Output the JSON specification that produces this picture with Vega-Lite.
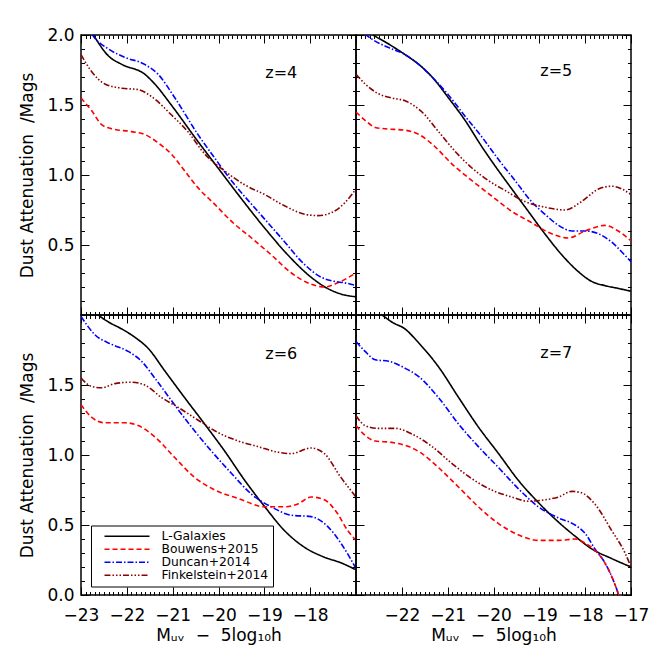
{
"$schema":"https://vega.github.io/schema/vega-lite/v6.json",
"padding":{"left":18,"top":25,"right":5,"bottom":5},
"config":{"view":{"stroke":"#000","strokeWidth":1.5},"font":"DejaVu Sans",
"axis":{"grid":false,"domain":false,"tickColor":"#000","tickWidth":1,"labelColor":"#000","labelFont":"DejaVu Sans","labelFontSize":17,"titleFont":"DejaVu Sans","titleFontSize":17,"titleFontWeight":"normal","titleColor":"#000","labelOverlap":false,"labelFlush":false,"labelBound":false}},
"datasets":{"c":[
{"z":4,"model":"L-Galaxies","M":-23,"A":2.15},{"z":4,"model":"L-Galaxies","M":-22.73,"A":2.0},{"z":4,"model":"L-Galaxies","M":-22.4,"A":1.85},{"z":4,"model":"L-Galaxies","M":-22.11,"A":1.79},{"z":4,"model":"L-Galaxies","M":-21.61,"A":1.72},{"z":4,"model":"L-Galaxies","M":-21.39,"A":1.65},{"z":4,"model":"L-Galaxies","M":-21.03,"A":1.5},{"z":4,"model":"L-Galaxies","M":-20.45,"A":1.24},{"z":4,"model":"L-Galaxies","M":-20.01,"A":1.05},{"z":4,"model":"L-Galaxies","M":-19.57,"A":0.86},{"z":4,"model":"L-Galaxies","M":-18.99,"A":0.62},{"z":4,"model":"L-Galaxies","M":-18.49,"A":0.43},{"z":4,"model":"L-Galaxies","M":-17.98,"A":0.27},{"z":4,"model":"L-Galaxies","M":-17.65,"A":0.195},{"z":4,"model":"L-Galaxies","M":-17.33,"A":0.15},{"z":4,"model":"L-Galaxies","M":-17.0,"A":0.13},
{"z":4,"model":"Bouwens+2015","M":-23,"A":1.55},{"z":4,"model":"Bouwens+2015","M":-22.77,"A":1.46},{"z":4,"model":"Bouwens+2015","M":-22.55,"A":1.36},{"z":4,"model":"Bouwens+2015","M":-22.33,"A":1.33},{"z":4,"model":"Bouwens+2015","M":-21.9,"A":1.31},{"z":4,"model":"Bouwens+2015","M":-21.61,"A":1.29},{"z":4,"model":"Bouwens+2015","M":-21.32,"A":1.23},{"z":4,"model":"Bouwens+2015","M":-21.03,"A":1.15},{"z":4,"model":"Bouwens+2015","M":-20.74,"A":1.03},{"z":4,"model":"Bouwens+2015","M":-20.45,"A":0.91},{"z":4,"model":"Bouwens+2015","M":-20.08,"A":0.79},{"z":4,"model":"Bouwens+2015","M":-19.72,"A":0.67},{"z":4,"model":"Bouwens+2015","M":-19.28,"A":0.55},{"z":4,"model":"Bouwens+2015","M":-18.85,"A":0.43},{"z":4,"model":"Bouwens+2015","M":-18.41,"A":0.3},{"z":4,"model":"Bouwens+2015","M":-17.98,"A":0.22},{"z":4,"model":"Bouwens+2015","M":-17.69,"A":0.2},{"z":4,"model":"Bouwens+2015","M":-17.4,"A":0.23},{"z":4,"model":"Bouwens+2015","M":-17.0,"A":0.3},
{"z":4,"model":"Duncan+2014","M":-23,"A":2.15},{"z":4,"model":"Duncan+2014","M":-22.75,"A":2.0},{"z":4,"model":"Duncan+2014","M":-22.4,"A":1.9},{"z":4,"model":"Duncan+2014","M":-22.04,"A":1.84},{"z":4,"model":"Duncan+2014","M":-21.61,"A":1.79},{"z":4,"model":"Duncan+2014","M":-21.32,"A":1.72},{"z":4,"model":"Duncan+2014","M":-20.95,"A":1.55},{"z":4,"model":"Duncan+2014","M":-20.45,"A":1.29},{"z":4,"model":"Duncan+2014","M":-20.08,"A":1.12},{"z":4,"model":"Duncan+2014","M":-19.72,"A":0.96},{"z":4,"model":"Duncan+2014","M":-19.14,"A":0.74},{"z":4,"model":"Duncan+2014","M":-18.63,"A":0.55},{"z":4,"model":"Duncan+2014","M":-18.12,"A":0.36},{"z":4,"model":"Duncan+2014","M":-17.76,"A":0.27},{"z":4,"model":"Duncan+2014","M":-17.47,"A":0.24},{"z":4,"model":"Duncan+2014","M":-17.25,"A":0.23},{"z":4,"model":"Duncan+2014","M":-17.0,"A":0.21},
{"z":4,"model":"Finkelstein+2014","M":-23,"A":1.86},{"z":4,"model":"Finkelstein+2014","M":-22.77,"A":1.74},{"z":4,"model":"Finkelstein+2014","M":-22.48,"A":1.65},{"z":4,"model":"Finkelstein+2014","M":-22.11,"A":1.62},{"z":4,"model":"Finkelstein+2014","M":-21.75,"A":1.61},{"z":4,"model":"Finkelstein+2014","M":-21.46,"A":1.56},{"z":4,"model":"Finkelstein+2014","M":-21.03,"A":1.43},{"z":4,"model":"Finkelstein+2014","M":-20.67,"A":1.31},{"z":4,"model":"Finkelstein+2014","M":-20.3,"A":1.15},{"z":4,"model":"Finkelstein+2014","M":-19.87,"A":1.03},{"z":4,"model":"Finkelstein+2014","M":-19.43,"A":0.93},{"z":4,"model":"Finkelstein+2014","M":-18.99,"A":0.86},{"z":4,"model":"Finkelstein+2014","M":-18.56,"A":0.78},{"z":4,"model":"Finkelstein+2014","M":-18.12,"A":0.72},{"z":4,"model":"Finkelstein+2014","M":-17.83,"A":0.71},{"z":4,"model":"Finkelstein+2014","M":-17.54,"A":0.73},{"z":4,"model":"Finkelstein+2014","M":-17.25,"A":0.8},{"z":4,"model":"Finkelstein+2014","M":-17.0,"A":0.9},
{"z":5,"model":"L-Galaxies","M":-23,"A":2.12},{"z":5,"model":"L-Galaxies","M":-22.62,"A":2.0},{"z":5,"model":"L-Galaxies","M":-22.36,"A":1.95},{"z":5,"model":"L-Galaxies","M":-21.93,"A":1.86},{"z":5,"model":"L-Galaxies","M":-21.63,"A":1.79},{"z":5,"model":"L-Galaxies","M":-21.34,"A":1.7},{"z":5,"model":"L-Galaxies","M":-20.98,"A":1.55},{"z":5,"model":"L-Galaxies","M":-20.62,"A":1.39},{"z":5,"model":"L-Galaxies","M":-20.25,"A":1.2},{"z":5,"model":"L-Galaxies","M":-19.89,"A":1.03},{"z":5,"model":"L-Galaxies","M":-19.6,"A":0.9},{"z":5,"model":"L-Galaxies","M":-19.24,"A":0.74},{"z":5,"model":"L-Galaxies","M":-18.88,"A":0.58},{"z":5,"model":"L-Galaxies","M":-18.51,"A":0.43},{"z":5,"model":"L-Galaxies","M":-18.15,"A":0.31},{"z":5,"model":"L-Galaxies","M":-17.86,"A":0.24},{"z":5,"model":"L-Galaxies","M":-17.57,"A":0.21},{"z":5,"model":"L-Galaxies","M":-17.28,"A":0.19},{"z":5,"model":"L-Galaxies","M":-17.0,"A":0.17},
{"z":5,"model":"Duncan+2014","M":-23,"A":2.06},{"z":5,"model":"Duncan+2014","M":-22.65,"A":1.97},{"z":5,"model":"Duncan+2014","M":-22.29,"A":1.91},{"z":5,"model":"Duncan+2014","M":-21.93,"A":1.86},{"z":5,"model":"Duncan+2014","M":-21.63,"A":1.79},{"z":5,"model":"Duncan+2014","M":-21.34,"A":1.7},{"z":5,"model":"Duncan+2014","M":-20.98,"A":1.57},{"z":5,"model":"Duncan+2014","M":-20.62,"A":1.42},{"z":5,"model":"Duncan+2014","M":-20.25,"A":1.27},{"z":5,"model":"Duncan+2014","M":-19.89,"A":1.11},{"z":5,"model":"Duncan+2014","M":-19.53,"A":0.96},{"z":5,"model":"Duncan+2014","M":-19.17,"A":0.81},{"z":5,"model":"Duncan+2014","M":-18.88,"A":0.72},{"z":5,"model":"Duncan+2014","M":-18.58,"A":0.64},{"z":5,"model":"Duncan+2014","M":-18.29,"A":0.6},{"z":5,"model":"Duncan+2014","M":-18.0,"A":0.6},{"z":5,"model":"Duncan+2014","M":-17.71,"A":0.58},{"z":5,"model":"Duncan+2014","M":-17.42,"A":0.52},{"z":5,"model":"Duncan+2014","M":-17.2,"A":0.45},{"z":5,"model":"Duncan+2014","M":-17.0,"A":0.38},
{"z":5,"model":"Bouwens+2015","M":-23,"A":1.45},{"z":5,"model":"Bouwens+2015","M":-22.8,"A":1.39},{"z":5,"model":"Bouwens+2015","M":-22.58,"A":1.34},{"z":5,"model":"Bouwens+2015","M":-22.36,"A":1.33},{"z":5,"model":"Bouwens+2015","M":-21.93,"A":1.32},{"z":5,"model":"Bouwens+2015","M":-21.63,"A":1.29},{"z":5,"model":"Bouwens+2015","M":-21.27,"A":1.2},{"z":5,"model":"Bouwens+2015","M":-20.91,"A":1.08},{"z":5,"model":"Bouwens+2015","M":-20.47,"A":0.96},{"z":5,"model":"Bouwens+2015","M":-20.04,"A":0.85},{"z":5,"model":"Bouwens+2015","M":-19.6,"A":0.74},{"z":5,"model":"Bouwens+2015","M":-19.17,"A":0.66},{"z":5,"model":"Bouwens+2015","M":-18.73,"A":0.58},{"z":5,"model":"Bouwens+2015","M":-18.37,"A":0.55},{"z":5,"model":"Bouwens+2015","M":-18.0,"A":0.6},{"z":5,"model":"Bouwens+2015","M":-17.57,"A":0.64},{"z":5,"model":"Bouwens+2015","M":-17.28,"A":0.6},{"z":5,"model":"Bouwens+2015","M":-17.0,"A":0.53},
{"z":5,"model":"Finkelstein+2014","M":-23,"A":1.72},{"z":5,"model":"Finkelstein+2014","M":-22.8,"A":1.65},{"z":5,"model":"Finkelstein+2014","M":-22.51,"A":1.58},{"z":5,"model":"Finkelstein+2014","M":-22.22,"A":1.55},{"z":5,"model":"Finkelstein+2014","M":-21.93,"A":1.53},{"z":5,"model":"Finkelstein+2014","M":-21.56,"A":1.45},{"z":5,"model":"Finkelstein+2014","M":-21.2,"A":1.31},{"z":5,"model":"Finkelstein+2014","M":-20.84,"A":1.17},{"z":5,"model":"Finkelstein+2014","M":-20.47,"A":1.05},{"z":5,"model":"Finkelstein+2014","M":-20.11,"A":0.96},{"z":5,"model":"Finkelstein+2014","M":-19.75,"A":0.89},{"z":5,"model":"Finkelstein+2014","M":-19.31,"A":0.81},{"z":5,"model":"Finkelstein+2014","M":-18.88,"A":0.77},{"z":5,"model":"Finkelstein+2014","M":-18.44,"A":0.75},{"z":5,"model":"Finkelstein+2014","M":-18.08,"A":0.81},{"z":5,"model":"Finkelstein+2014","M":-17.71,"A":0.9},{"z":5,"model":"Finkelstein+2014","M":-17.42,"A":0.92},{"z":5,"model":"Finkelstein+2014","M":-17.2,"A":0.9},{"z":5,"model":"Finkelstein+2014","M":-17.0,"A":0.86},
{"z":6,"model":"L-Galaxies","M":-23,"A":2.15},{"z":6,"model":"L-Galaxies","M":-22.62,"A":2.0},{"z":6,"model":"L-Galaxies","M":-22.4,"A":1.95},{"z":6,"model":"L-Galaxies","M":-22.11,"A":1.9},{"z":6,"model":"L-Galaxies","M":-21.82,"A":1.84},{"z":6,"model":"L-Galaxies","M":-21.53,"A":1.76},{"z":6,"model":"L-Galaxies","M":-21.17,"A":1.6},{"z":6,"model":"L-Galaxies","M":-20.74,"A":1.41},{"z":6,"model":"L-Galaxies","M":-20.3,"A":1.22},{"z":6,"model":"L-Galaxies","M":-19.87,"A":1.03},{"z":6,"model":"L-Galaxies","M":-19.43,"A":0.82},{"z":6,"model":"L-Galaxies","M":-18.99,"A":0.63},{"z":6,"model":"L-Galaxies","M":-18.56,"A":0.46},{"z":6,"model":"L-Galaxies","M":-18.12,"A":0.34},{"z":6,"model":"L-Galaxies","M":-17.69,"A":0.27},{"z":6,"model":"L-Galaxies","M":-17.33,"A":0.23},{"z":6,"model":"L-Galaxies","M":-17.0,"A":0.18},
{"z":6,"model":"Duncan+2014","M":-23,"A":1.99},{"z":6,"model":"Duncan+2014","M":-22.7,"A":1.86},{"z":6,"model":"Duncan+2014","M":-22.33,"A":1.79},{"z":6,"model":"Duncan+2014","M":-21.97,"A":1.74},{"z":6,"model":"Duncan+2014","M":-21.68,"A":1.67},{"z":6,"model":"Duncan+2014","M":-21.39,"A":1.55},{"z":6,"model":"Duncan+2014","M":-21.03,"A":1.39},{"z":6,"model":"Duncan+2014","M":-20.59,"A":1.2},{"z":6,"model":"Duncan+2014","M":-20.16,"A":1.03},{"z":6,"model":"Duncan+2014","M":-19.72,"A":0.87},{"z":6,"model":"Duncan+2014","M":-19.28,"A":0.72},{"z":6,"model":"Duncan+2014","M":-18.85,"A":0.63},{"z":6,"model":"Duncan+2014","M":-18.41,"A":0.57},{"z":6,"model":"Duncan+2014","M":-17.98,"A":0.56},{"z":6,"model":"Duncan+2014","M":-17.62,"A":0.49},{"z":6,"model":"Duncan+2014","M":-17.33,"A":0.37},{"z":6,"model":"Duncan+2014","M":-17.0,"A":0.19},
{"z":6,"model":"Bouwens+2015","M":-23,"A":1.36},{"z":6,"model":"Bouwens+2015","M":-22.77,"A":1.27},{"z":6,"model":"Bouwens+2015","M":-22.48,"A":1.23},{"z":6,"model":"Bouwens+2015","M":-22.04,"A":1.23},{"z":6,"model":"Bouwens+2015","M":-21.75,"A":1.21},{"z":6,"model":"Bouwens+2015","M":-21.39,"A":1.13},{"z":6,"model":"Bouwens+2015","M":-20.95,"A":0.98},{"z":6,"model":"Bouwens+2015","M":-20.52,"A":0.84},{"z":6,"model":"Bouwens+2015","M":-20.08,"A":0.75},{"z":6,"model":"Bouwens+2015","M":-19.57,"A":0.69},{"z":6,"model":"Bouwens+2015","M":-18.99,"A":0.63},{"z":6,"model":"Bouwens+2015","M":-18.56,"A":0.63},{"z":6,"model":"Bouwens+2015","M":-18.27,"A":0.65},{"z":6,"model":"Bouwens+2015","M":-17.98,"A":0.7},{"z":6,"model":"Bouwens+2015","M":-17.69,"A":0.68},{"z":6,"model":"Bouwens+2015","M":-17.4,"A":0.58},{"z":6,"model":"Bouwens+2015","M":-17.18,"A":0.46},{"z":6,"model":"Bouwens+2015","M":-17.0,"A":0.39},
{"z":6,"model":"Finkelstein+2014","M":-23,"A":1.55},{"z":6,"model":"Finkelstein+2014","M":-22.77,"A":1.49},{"z":6,"model":"Finkelstein+2014","M":-22.55,"A":1.48},{"z":6,"model":"Finkelstein+2014","M":-22.26,"A":1.51},{"z":6,"model":"Finkelstein+2014","M":-21.9,"A":1.52},{"z":6,"model":"Finkelstein+2014","M":-21.61,"A":1.5},{"z":6,"model":"Finkelstein+2014","M":-21.24,"A":1.41},{"z":6,"model":"Finkelstein+2014","M":-20.88,"A":1.34},{"z":6,"model":"Finkelstein+2014","M":-20.45,"A":1.25},{"z":6,"model":"Finkelstein+2014","M":-20.01,"A":1.16},{"z":6,"model":"Finkelstein+2014","M":-19.57,"A":1.1},{"z":6,"model":"Finkelstein+2014","M":-19.14,"A":1.06},{"z":6,"model":"Finkelstein+2014","M":-18.7,"A":1.02},{"z":6,"model":"Finkelstein+2014","M":-18.41,"A":1.01},{"z":6,"model":"Finkelstein+2014","M":-17.98,"A":1.05},{"z":6,"model":"Finkelstein+2014","M":-17.69,"A":1.01},{"z":6,"model":"Finkelstein+2014","M":-17.33,"A":0.84},{"z":6,"model":"Finkelstein+2014","M":-17.0,"A":0.7},
{"z":7,"model":"L-Galaxies","M":-23,"A":2.12},{"z":7,"model":"L-Galaxies","M":-22.43,"A":2.0},{"z":7,"model":"L-Galaxies","M":-22.22,"A":1.95},{"z":7,"model":"L-Galaxies","M":-21.93,"A":1.9},{"z":7,"model":"L-Galaxies","M":-21.63,"A":1.8},{"z":7,"model":"L-Galaxies","M":-21.2,"A":1.63},{"z":7,"model":"L-Galaxies","M":-20.76,"A":1.41},{"z":7,"model":"L-Galaxies","M":-20.33,"A":1.2},{"z":7,"model":"L-Galaxies","M":-19.89,"A":1.01},{"z":7,"model":"L-Galaxies","M":-19.46,"A":0.82},{"z":7,"model":"L-Galaxies","M":-19.02,"A":0.66},{"z":7,"model":"L-Galaxies","M":-18.58,"A":0.52},{"z":7,"model":"L-Galaxies","M":-18.22,"A":0.42},{"z":7,"model":"L-Galaxies","M":-17.86,"A":0.33},{"z":7,"model":"L-Galaxies","M":-17.42,"A":0.26},{"z":7,"model":"L-Galaxies","M":-17.0,"A":0.2},
{"z":7,"model":"Duncan+2014","M":-23,"A":1.81},{"z":7,"model":"Duncan+2014","M":-22.8,"A":1.74},{"z":7,"model":"Duncan+2014","M":-22.58,"A":1.68},{"z":7,"model":"Duncan+2014","M":-22.29,"A":1.67},{"z":7,"model":"Duncan+2014","M":-21.93,"A":1.62},{"z":7,"model":"Duncan+2014","M":-21.63,"A":1.56},{"z":7,"model":"Duncan+2014","M":-21.2,"A":1.41},{"z":7,"model":"Duncan+2014","M":-20.76,"A":1.22},{"z":7,"model":"Duncan+2014","M":-20.33,"A":1.06},{"z":7,"model":"Duncan+2014","M":-19.89,"A":0.91},{"z":7,"model":"Duncan+2014","M":-19.46,"A":0.76},{"z":7,"model":"Duncan+2014","M":-19.02,"A":0.63},{"z":7,"model":"Duncan+2014","M":-18.58,"A":0.55},{"z":7,"model":"Duncan+2014","M":-18.22,"A":0.5},{"z":7,"model":"Duncan+2014","M":-18.0,"A":0.44},{"z":7,"model":"Duncan+2014","M":-17.79,"A":0.33},{"z":7,"model":"Duncan+2014","M":-17.57,"A":0.23},{"z":7,"model":"Duncan+2014","M":-17.38,"A":0.1},{"z":7,"model":"Duncan+2014","M":-17.27,"A":0.0},{"z":7,"model":"Duncan+2014","M":-17.12,"A":-0.2},
{"z":7,"model":"Bouwens+2015","M":-23,"A":1.21},{"z":7,"model":"Bouwens+2015","M":-22.8,"A":1.14},{"z":7,"model":"Bouwens+2015","M":-22.58,"A":1.1},{"z":7,"model":"Bouwens+2015","M":-22.22,"A":1.09},{"z":7,"model":"Bouwens+2015","M":-21.85,"A":1.06},{"z":7,"model":"Bouwens+2015","M":-21.56,"A":1.01},{"z":7,"model":"Bouwens+2015","M":-21.2,"A":0.91},{"z":7,"model":"Bouwens+2015","M":-20.76,"A":0.77},{"z":7,"model":"Bouwens+2015","M":-20.33,"A":0.63},{"z":7,"model":"Bouwens+2015","M":-19.89,"A":0.51},{"z":7,"model":"Bouwens+2015","M":-19.46,"A":0.43},{"z":7,"model":"Bouwens+2015","M":-19.02,"A":0.39},{"z":7,"model":"Bouwens+2015","M":-18.58,"A":0.39},{"z":7,"model":"Bouwens+2015","M":-18.22,"A":0.4},{"z":7,"model":"Bouwens+2015","M":-18.0,"A":0.37},{"z":7,"model":"Bouwens+2015","M":-17.79,"A":0.32},{"z":7,"model":"Bouwens+2015","M":-17.57,"A":0.23},{"z":7,"model":"Bouwens+2015","M":-17.38,"A":0.1},{"z":7,"model":"Bouwens+2015","M":-17.27,"A":0.0},{"z":7,"model":"Bouwens+2015","M":-17.12,"A":-0.2},
{"z":7,"model":"Finkelstein+2014","M":-23,"A":1.28},{"z":7,"model":"Finkelstein+2014","M":-22.8,"A":1.21},{"z":7,"model":"Finkelstein+2014","M":-22.51,"A":1.19},{"z":7,"model":"Finkelstein+2014","M":-22.14,"A":1.19},{"z":7,"model":"Finkelstein+2014","M":-21.78,"A":1.15},{"z":7,"model":"Finkelstein+2014","M":-21.34,"A":1.06},{"z":7,"model":"Finkelstein+2014","M":-20.91,"A":0.94},{"z":7,"model":"Finkelstein+2014","M":-20.47,"A":0.83},{"z":7,"model":"Finkelstein+2014","M":-20.04,"A":0.75},{"z":7,"model":"Finkelstein+2014","M":-19.6,"A":0.7},{"z":7,"model":"Finkelstein+2014","M":-19.24,"A":0.67},{"z":7,"model":"Finkelstein+2014","M":-18.88,"A":0.68},{"z":7,"model":"Finkelstein+2014","M":-18.58,"A":0.7},{"z":7,"model":"Finkelstein+2014","M":-18.29,"A":0.74},{"z":7,"model":"Finkelstein+2014","M":-18.08,"A":0.73},{"z":7,"model":"Finkelstein+2014","M":-17.79,"A":0.65},{"z":7,"model":"Finkelstein+2014","M":-17.42,"A":0.46},{"z":7,"model":"Finkelstein+2014","M":-17.13,"A":0.3},{"z":7,"model":"Finkelstein+2014","M":-17.0,"A":0.2}
]},
"columns":2,
"spacing":0,
"bounds":"flush",
"resolve":{"scale":{"color":"independent","strokeDash":"independent"},"legend":{"color":"independent","strokeDash":"independent"}},
"concat":[
{"width":275,"height":280,
 "resolve":{"axis":{"x":"independent","y":"independent"}},
 "layer":[
  {"data":{"name":"c"},"transform":[{"filter":"datum.z==4"}],
   "mark":{"type":"line","clip":true,"strokeWidth":1.6,"interpolate":"monotone"},
   "encoding":{
    "x":{"field":"M","type":"quantitative","scale":{"domain":[-23,-17],"nice":false,"zero":false},"axis":{"orient":"bottom","tickSize":8,"offset":-8,"tickCount":6,"labels":false,"title":null}},
    "y":{"field":"A","type":"quantitative","scale":{"domain":[0,2],"nice":false},"axis":{"orient":"left","tickSize":8,"offset":-8,"values":[0.5,1,1.5,2],"format":".1f","labelPadding":7,"title":"Dust Attenuation\u00a0\u00a0/Mags","titlePadding":10}},
    "color":{"field":"model","type":"nominal","scale":{"domain":["L-Galaxies","Bouwens+2015","Duncan+2014","Finkelstein+2014"],"range":["#000000","#ff0000","#0000ff","#8b0000"]},"legend":null},
    "strokeDash":{"field":"model","type":"nominal","scale":{"domain":["L-Galaxies","Bouwens+2015","Duncan+2014","Finkelstein+2014"],"range":[[1,0],[5,3],[6,2,1.5,2],[6,2,1.5,2,1.5,2,1.5,2]]},"legend":null}}},
  {"data":{"values":[{"t":"z=4"}]},
   "mark":{"type":"text","fontSize":16,"font":"DejaVu Sans","color":"#000","baseline":"middle"},
   "encoding":{"text":{"field":"t"},
    "x":{"datum":-18.63,"type":"quantitative","axis":{"orient":"top","tickSize":8,"offset":-8,"tickCount":6,"labels":false,"title":null}},
    "y":{"datum":1.73,"type":"quantitative","axis":{"orient":"right","tickSize":8,"offset":-8,"tickCount":4,"labels":false,"title":null}}}},
  {"data":{"values":[{"t":""}]},"mark":{"type":"point","opacity":0},
   "encoding":{"x":{"datum":-20,"type":"quantitative","axis":{"orient":"bottom","tickSize":3.5,"offset":-3.5,"tickCount":60,"labels":false,"title":null}},
    "y":{"datum":1,"type":"quantitative","axis":{"orient":"left","tickSize":3.5,"offset":-3.5,"tickCount":20,"labels":false,"title":null}}}},
  {"data":{"values":[{"t":""}]},"mark":{"type":"point","opacity":0},
   "encoding":{"x":{"datum":-20,"type":"quantitative","axis":{"orient":"top","tickSize":3.5,"offset":-3.5,"tickCount":60,"labels":false,"title":null}},
    "y":{"datum":1,"type":"quantitative","axis":{"orient":"right","tickSize":3.5,"offset":-3.5,"tickCount":20,"labels":false,"title":null}}}}
 ]},
{"width":275,"height":280,
 "resolve":{"axis":{"x":"independent","y":"independent"}},
 "layer":[
  {"data":{"name":"c"},"transform":[{"filter":"datum.z==5"}],
   "mark":{"type":"line","clip":true,"strokeWidth":1.6,"interpolate":"monotone"},
   "encoding":{
    "x":{"field":"M","type":"quantitative","scale":{"domain":[-23,-17],"nice":false,"zero":false},"axis":{"orient":"bottom","tickSize":8,"offset":-8,"tickCount":6,"labels":false,"title":null}},
    "y":{"field":"A","type":"quantitative","scale":{"domain":[0,2],"nice":false},"axis":{"orient":"left","tickSize":8,"offset":-8,"tickCount":4,"labels":false,"title":null}},
    "color":{"field":"model","type":"nominal","scale":{"domain":["L-Galaxies","Bouwens+2015","Duncan+2014","Finkelstein+2014"],"range":["#000000","#ff0000","#0000ff","#8b0000"]},"legend":null},
    "strokeDash":{"field":"model","type":"nominal","scale":{"domain":["L-Galaxies","Bouwens+2015","Duncan+2014","Finkelstein+2014"],"range":[[1,0],[5,3],[6,2,1.5,2],[6,2,1.5,2,1.5,2,1.5,2]]},"legend":null}}},
  {"data":{"values":[{"t":"z=5"}]},
   "mark":{"type":"text","fontSize":16,"font":"DejaVu Sans","color":"#000","baseline":"middle"},
   "encoding":{"text":{"field":"t"},
    "x":{"datum":-18.63,"type":"quantitative","axis":{"orient":"top","tickSize":8,"offset":-8,"tickCount":6,"labels":false,"title":null}},
    "y":{"datum":1.74,"type":"quantitative","axis":{"orient":"right","tickSize":8,"offset":-8,"tickCount":4,"labels":false,"title":null}}}},
  {"data":{"values":[{"t":""}]},"mark":{"type":"point","opacity":0},
   "encoding":{"x":{"datum":-20,"type":"quantitative","axis":{"orient":"bottom","tickSize":3.5,"offset":-3.5,"tickCount":60,"labels":false,"title":null}},
    "y":{"datum":1,"type":"quantitative","axis":{"orient":"left","tickSize":3.5,"offset":-3.5,"tickCount":20,"labels":false,"title":null}}}},
  {"data":{"values":[{"t":""}]},"mark":{"type":"point","opacity":0},
   "encoding":{"x":{"datum":-20,"type":"quantitative","axis":{"orient":"top","tickSize":3.5,"offset":-3.5,"tickCount":60,"labels":false,"title":null}},
    "y":{"datum":1,"type":"quantitative","axis":{"orient":"right","tickSize":3.5,"offset":-3.5,"tickCount":20,"labels":false,"title":null}}}}
 ]},
{"width":275,"height":280,
 "resolve":{"axis":{"x":"independent","y":"independent"}},
 "layer":[
  {"data":{"name":"c"},"transform":[{"filter":"datum.z==6"}],
   "mark":{"type":"line","clip":true,"strokeWidth":1.6,"interpolate":"monotone"},
   "encoding":{
    "x":{"field":"M","type":"quantitative","scale":{"domain":[-23,-17],"nice":false,"zero":false},"axis":{"orient":"bottom","tickSize":8,"offset":-8,"values":[-23,-22,-21,-20,-19,-18],"format":"d","labelPadding":12,"title":"M\u1d64\u1d65\u00a0\u00a0\u2212\u00a0\u00a05log\u2081\u2080h","titlePadding":4}},
    "y":{"field":"A","type":"quantitative","scale":{"domain":[0,2],"nice":false},"axis":{"orient":"left","tickSize":8,"offset":-8,"values":[0,0.5,1,1.5],"format":".1f","labelPadding":7,"title":"Dust Attenuation\u00a0\u00a0/Mags","titlePadding":10}},
    "color":{"field":"model","type":"nominal","scale":{"domain":["L-Galaxies","Bouwens+2015","Duncan+2014","Finkelstein+2014"],"range":["#000000","#ff0000","#0000ff","#8b0000"]},
      "legend":{"orient":"none","legendX":10,"legendY":210.5,"title":null,"direction":"vertical","strokeColor":"#000","fillColor":"#fff","padding":4.5,"cornerRadius":0,"labelFont":"DejaVu Sans","labelFontSize":12.3,"labelColor":"#000","labelOffset":11,"symbolType":"stroke","symbolSize":2025,"symbolStrokeWidth":1.5,"symbolOffset":8,"clipHeight":12.4,"rowPadding":0}},
    "strokeDash":{"field":"model","type":"nominal","scale":{"domain":["L-Galaxies","Bouwens+2015","Duncan+2014","Finkelstein+2014"],"range":[[1,0],[5,3],[6,2,1.5,2],[6,2,1.5,2,1.5,2,1.5,2]]},
      "legend":{"orient":"none","legendX":10,"legendY":210.5,"title":null,"direction":"vertical","strokeColor":"#000","fillColor":"#fff","padding":4.5,"cornerRadius":0,"labelFont":"DejaVu Sans","labelFontSize":12.3,"labelColor":"#000","labelOffset":11,"symbolType":"stroke","symbolSize":2025,"symbolStrokeWidth":1.5,"symbolOffset":8,"clipHeight":12.4,"rowPadding":0}}}},
  {"data":{"values":[{"t":"z=6"}]},
   "mark":{"type":"text","fontSize":16,"font":"DejaVu Sans","color":"#000","baseline":"middle"},
   "encoding":{"text":{"field":"t"},
    "x":{"datum":-18.63,"type":"quantitative","axis":{"orient":"top","tickSize":8,"offset":-8,"tickCount":6,"labels":false,"title":null}},
    "y":{"datum":1.72,"type":"quantitative","axis":{"orient":"right","tickSize":8,"offset":-8,"tickCount":4,"labels":false,"title":null}}}},
  {"data":{"values":[{"t":""}]},"mark":{"type":"point","opacity":0},
   "encoding":{"x":{"datum":-20,"type":"quantitative","axis":{"orient":"bottom","tickSize":3.5,"offset":-3.5,"tickCount":60,"labels":false,"title":null}},
    "y":{"datum":1,"type":"quantitative","axis":{"orient":"left","tickSize":3.5,"offset":-3.5,"tickCount":20,"labels":false,"title":null}}}},
  {"data":{"values":[{"t":""}]},"mark":{"type":"point","opacity":0},
   "encoding":{"x":{"datum":-20,"type":"quantitative","axis":{"orient":"top","tickSize":3.5,"offset":-3.5,"tickCount":60,"labels":false,"title":null}},
    "y":{"datum":1,"type":"quantitative","axis":{"orient":"right","tickSize":3.5,"offset":-3.5,"tickCount":20,"labels":false,"title":null}}}}
 ]},
{"width":275,"height":280,
 "resolve":{"axis":{"x":"independent","y":"independent"}},
 "layer":[
  {"data":{"name":"c"},"transform":[{"filter":"datum.z==7"}],
   "mark":{"type":"line","clip":true,"strokeWidth":1.6,"interpolate":"monotone"},
   "encoding":{
    "x":{"field":"M","type":"quantitative","scale":{"domain":[-23,-17],"nice":false,"zero":false},"axis":{"orient":"bottom","tickSize":8,"offset":-8,"values":[-22,-21,-20,-19,-18,-17],"format":"d","labelPadding":12,"title":"M\u1d64\u1d65\u00a0\u00a0\u2212\u00a0\u00a05log\u2081\u2080h","titlePadding":4}},
    "y":{"field":"A","type":"quantitative","scale":{"domain":[0,2],"nice":false},"axis":{"orient":"left","tickSize":8,"offset":-8,"tickCount":4,"labels":false,"title":null}},
    "color":{"field":"model","type":"nominal","scale":{"domain":["L-Galaxies","Bouwens+2015","Duncan+2014","Finkelstein+2014"],"range":["#000000","#ff0000","#0000ff","#8b0000"]},"legend":null},
    "strokeDash":{"field":"model","type":"nominal","scale":{"domain":["L-Galaxies","Bouwens+2015","Duncan+2014","Finkelstein+2014"],"range":[[1,0],[5,3],[6,2,1.5,2],[6,2,1.5,2,1.5,2,1.5,2]]},"legend":null}}},
  {"data":{"values":[{"t":"z=7"}]},
   "mark":{"type":"text","fontSize":16,"font":"DejaVu Sans","color":"#000","baseline":"middle"},
   "encoding":{"text":{"field":"t"},
    "x":{"datum":-18.63,"type":"quantitative","axis":{"orient":"top","tickSize":8,"offset":-8,"tickCount":6,"labels":false,"title":null}},
    "y":{"datum":1.73,"type":"quantitative","axis":{"orient":"right","tickSize":8,"offset":-8,"tickCount":4,"labels":false,"title":null}}}},
  {"data":{"values":[{"t":""}]},"mark":{"type":"point","opacity":0},
   "encoding":{"x":{"datum":-20,"type":"quantitative","axis":{"orient":"bottom","tickSize":3.5,"offset":-3.5,"tickCount":60,"labels":false,"title":null}},
    "y":{"datum":1,"type":"quantitative","axis":{"orient":"left","tickSize":3.5,"offset":-3.5,"tickCount":20,"labels":false,"title":null}}}},
  {"data":{"values":[{"t":""}]},"mark":{"type":"point","opacity":0},
   "encoding":{"x":{"datum":-20,"type":"quantitative","axis":{"orient":"top","tickSize":3.5,"offset":-3.5,"tickCount":60,"labels":false,"title":null}},
    "y":{"datum":1,"type":"quantitative","axis":{"orient":"right","tickSize":3.5,"offset":-3.5,"tickCount":20,"labels":false,"title":null}}}}
 ]}
]
}
